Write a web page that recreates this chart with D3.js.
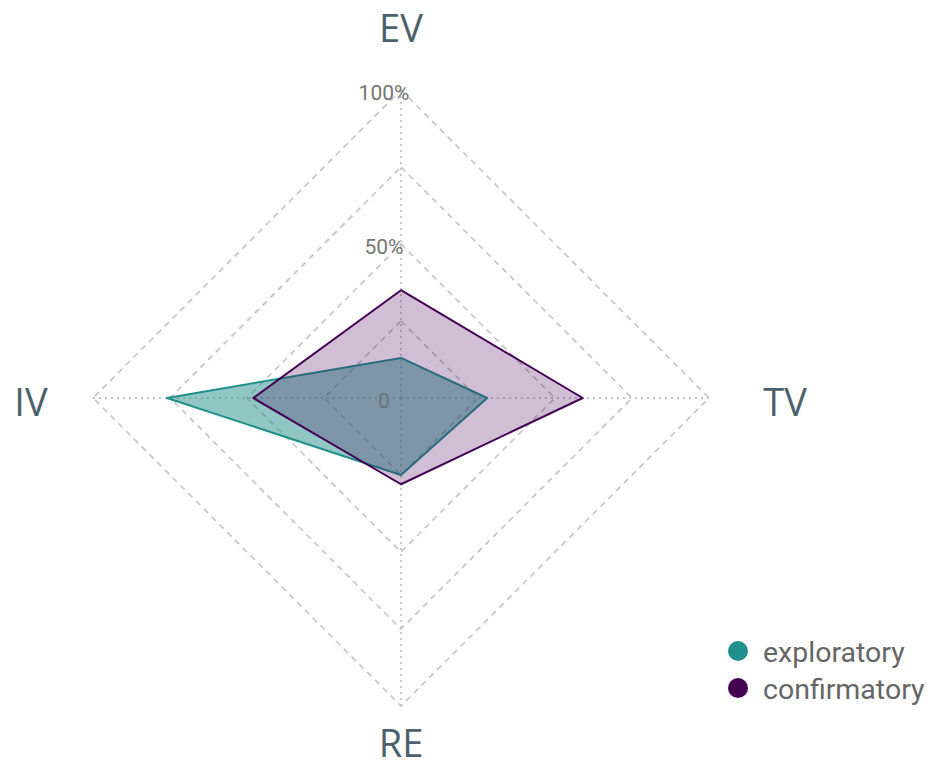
<!DOCTYPE html>
<html>
<head>
<meta charset="utf-8">
<script src="https://cdn.jsdelivr.net/npm/d3@7"></script>
<style>
  body { margin: 0; background: #fff; }
</style>
</head>
<body>
<div id="radar"></div>
<script>
// data
var axes = ["EV", "TV", "RE", "IV"];
var groups = ["exploratory", "confirmatory"];
var exploratory = [0.13, 0.28, 0.25, 0.76];
var confirmatory = [0.35, 0.59, 0.28, 0.48];
var gridLevels = [0.25, 0.5, 0.75, 1];
var gridLabels = [{v: 0, t: "0"}, {v: 0.5, t: "50%"}, {v: 1, t: "100%"}];

var width = 931;
var height = 770;
var cx = 401, cy = 398;
var radius = 308;

var color = d3.scaleOrdinal()
    .domain(groups)
    .range(["#21908C", "#440154"]);
var fillOpacity = {exploratory: 0.5, confirmatory: 0.25};

var r = d3.scaleLinear().domain([0, 1]).range([0, radius]);
var angle = d3.scalePoint().domain(axes.concat(["_end"])).range([0, 2 * Math.PI]);

var svg = d3.select('#radar')
    .append('svg')
    .attr('width', width)
    .attr('height', height)
    .append('g')
    .attr('transform', 'translate(' + cx + ',' + cy + ')');

var line = d3.lineRadial()
    .angle(function (d) { return angle(d.axis); })
    .radius(function (d) { return r(d.value); })
    .curve(d3.curveLinearClosed);

// grid diamonds
svg.selectAll('.grid')
    .data(gridLevels)
    .enter()
    .append('path')
    .attr('class', 'grid')
    .attr('d', function (lv) {
        return line(axes.map(function (a) { return {axis: a, value: lv}; }));
    })
    .attr('fill', 'none')
    .attr('stroke', '#c4c4c4')
    .attr('stroke-width', 1.6)
    .attr('stroke-dasharray', '6,5');

// axis spokes
svg.selectAll('.spoke')
    .data(axes)
    .enter()
    .append('line')
    .attr('class', 'spoke')
    .attr('x1', 0).attr('y1', 0)
    .attr('x2', function (a) { return r(1) * Math.sin(angle(a)); })
    .attr('y2', function (a) { return -r(1) * Math.cos(angle(a)); })
    .attr('stroke', '#c4c4c4')
    .attr('stroke-width', 1.8)
    .attr('stroke-dasharray', '2,4');

// series
var series = [
    {name: "exploratory", values: exploratory},
    {name: "confirmatory", values: confirmatory}
];

svg.selectAll('.area')
    .data(series)
    .enter()
    .append('path')
    .attr('class', 'area')
    .attr('d', function (s) {
        return line(s.values.map(function (v, i) { return {axis: axes[i], value: v}; }));
    })
    .attr('fill', function (s) { return color(s.name); })
    .attr('fill-opacity', function (s) { return fillOpacity[s.name]; })
    .attr('stroke', function (s) { return color(s.name); })
    .attr('stroke-width', 2)
    .attr('stroke-linejoin', 'round');

// grid labels
svg.selectAll('.glabel')
    .data(gridLabels)
    .enter()
    .append('text')
    .attr('class', 'glabel')
    .attr('x', -17)
    .attr('y', function (d) { return -r(d.v) + 4; })
    .attr('text-anchor', 'middle')
    .attr('dominant-baseline', 'middle')
    .style('font-family', 'Roboto, sans-serif')
    .style('font-size', '21px')
    .style('fill', '#747474')
    .text(function (d) { return d.t; });

// axis labels
var labelOffset = {EV: [0, -366], TV: [384, 8], RE: [0, 349], IV: [-370, 8]};
svg.selectAll('.alabel')
    .data(axes)
    .enter()
    .append('text')
    .attr('class', 'alabel')
    .attr('x', function (a) { return labelOffset[a][0]; })
    .attr('y', function (a) { return labelOffset[a][1]; })
    .attr('text-anchor', 'middle')
    .attr('dominant-baseline', 'middle')
    .style('font-family', '"Open Sans", sans-serif')
    .style('font-size', '38px')
    .style('fill', '#4b616b')
    .text(function (a) { return a; });

// Legend
var legend = d3.select('svg')
    .selectAll('.legend')
    .data(groups)
    .enter()
    .append('g')
    .attr('class', 'legend')
    .attr('transform', function (d, i) {
        return 'translate(738,' + (651 + i * 37) + ')';
    });

legend.append('circle')
    .attr('r', 10)
    .attr('fill', color);

legend.append('text')
    .attr('x', 25)
    .attr('y', 3)
    .attr('dominant-baseline', 'middle')
    .style('font-family', 'Roboto, sans-serif')
    .style('font-size', '28.5px')
    .style('fill', '#666666')
    .text(function (d) { return d; });
</script>
</body>
</html>
